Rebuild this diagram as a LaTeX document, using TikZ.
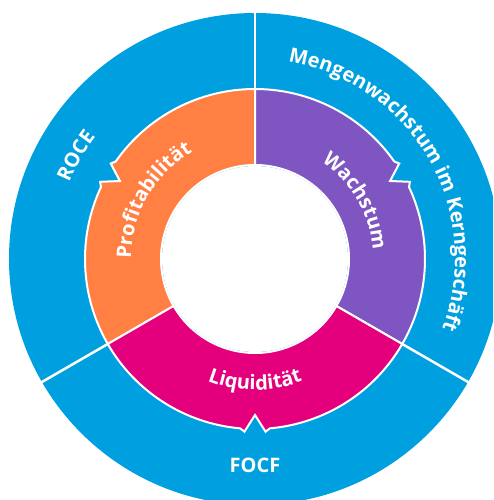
\documentclass[tikz,border=0pt]{standalone}
\usepackage{fontspec}
\setmainfont{Open Sans}
\usetikzlibrary{
    positioning,           % Relative positioning
    decorations.text,      % Text along arcs
    calc                   % Coordinate calculations
}

\definecolor{ringblue}{HTML}{009FE0}
\definecolor{profit}{HTML}{FF8042}
\definecolor{growth}{HTML}{7F55C2}
\definecolor{liquid}{HTML}{E4007D}

\newcommand{\lbl}{\bfseries\fontsize{20}{20}\selectfont}

\tikzset{
    seg/.style={draw=white, line width=2pt, line join=miter},
    sepline/.style={draw=white, line width=2.5pt},
    arclabel/.style={decorate, decoration={text along path, text={|\lbl|#1}, text align=center, text color=white}},
}

\begin{document}
\begin{tikzpicture}[x=1pt,y=1pt]
    \useasboundingbox (-255,-241) rectangle (238,259);
    \clip (-255,-241) rectangle (238,259);

    % outer ring
    \fill[ringblue] (0,0) circle[radius=246];
    \foreach \a in {90,210,330}
        \draw[sepline] (\a:150) -- (\a:250);

    % inner ring with notches
    \foreach \s/\c in {90/profit, -30/growth, 210/liquid} {
        \pgfmathsetmacro\segmid{\s+60}
        \pgfmathsetmacro\segend{\s+120}
        \filldraw[seg, fill=\c] (\s:94) arc[start angle=\s, end angle=\segend, radius=94]
            -- (\segend:170) arc[start angle=\segend, end angle={\segmid+5}, radius=170]
            -- ({\segmid+3.5}:173) -- (\segmid:156) -- ({\segmid-3.5}:173)
            -- ({\segmid-5}:170) arc[start angle={\segmid-5}, end angle=\s, radius=170] -- cycle;
    }
    \fill[white] (0,0) circle[radius=93];

    % labels
    \path[arclabel={Mengenwachstum im Kerngeschäft}] (100:200) arc[start angle=100, end angle=-40, radius=200];
    \path[arclabel={ROCE}] (190:201) arc[start angle=190, end angle=110, radius=201];
    \path[arclabel={Profitabilität}] (220:124) arc[start angle=220, end angle=80, radius=124];
    \path[arclabel={Wachstum}] (90:118) arc[start angle=90, end angle=-30, radius=118];
    \path[arclabel={Liquidität}] (215:131) arc[start angle=215, end angle=325, radius=131];
    \node[text=white, font=\lbl] (focf) at (270:206) {FOCF};
\end{tikzpicture}
\end{document}
